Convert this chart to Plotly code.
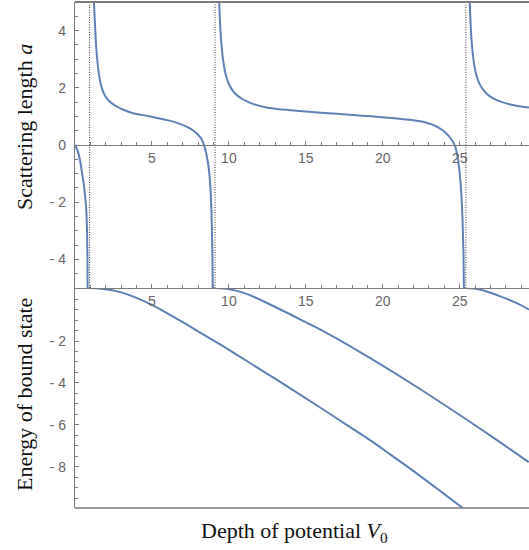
import plotly.graph_objects as go

# ---------------- data ----------------
# Scattering length a vs depth V0, branches between resonances
v0_branch1 = [0.0, 0.2, 0.32, 0.43, 0.55, 0.65, 0.71, 0.76, 0.79, 0.81, 0.82]
a_branch1 = [0.0, -0.25, -0.52, -0.88, -1.3, -1.75, -2.1, -2.6, -3.2, -4.0, -5.0]

v0_branch2 = [1.23, 1.3, 1.38, 1.47, 1.6, 1.75, 1.95, 2.2, 2.6, 3.1, 3.79, 4.98, 5.9,
              6.82, 7.47, 7.9, 8.23, 8.44, 8.62, 8.74, 8.83, 8.89, 8.93, 8.95]
a_branch2 = [5.0, 4.2, 3.4, 2.85, 2.32, 1.98, 1.72, 1.55, 1.38, 1.24, 1.11, 0.99, 0.88,
             0.74, 0.58, 0.41, 0.2, -0.1, -0.55, -1.05, -1.8, -2.8, -3.9, -5.0]

v0_branch3 = [9.37, 9.43, 9.52, 9.63, 9.8, 10.05, 10.4, 10.9, 11.6, 12.45, 13.5,
              15.0, 17.0, 18.5, 19.98, 21.75, 22.84, 23.6, 24.1, 24.45, 24.7, 24.87,
              25.0, 25.1, 25.18, 25.24, 25.27]
a_branch3 = [5.0, 4.2, 3.5, 2.95, 2.45, 2.07, 1.8, 1.6, 1.43, 1.31, 1.24,
             1.17, 1.09, 1.03, 0.97, 0.88, 0.78, 0.62, 0.42, 0.2, -0.05, -0.45,
             -1.0, -1.7, -2.6, -3.7, -5.0]

v0_branch4 = [25.65, 25.71, 25.79, 25.9, 26.05, 26.3, 26.7, 27.2, 27.8, 28.6, 29.5]
a_branch4 = [5.0, 4.2, 3.5, 2.95, 2.5, 2.12, 1.82, 1.62, 1.49, 1.38, 1.31]

# Resonance positions (dotted vertical lines)
resonances = [0.95, 9.1, 25.4]

# Bound-state energies vs depth V0
v0_state1 = [0.94, 2.0, 3.0, 4.0, 5.0, 6.0, 7.0, 8.5, 10.0, 11.5, 13.0, 14.5, 16.0,
             17.5, 19.0, 20.5, 22.0, 23.5, 25.0, 25.3]
e_state1 = [0.53, 0.47, 0.32, 0.06, -0.28, -0.68, -1.10, -1.76, -2.42, -3.11, -3.80,
            -4.50, -5.21, -5.93, -6.65, -7.42, -8.21, -9.03, -9.86, -10.02]

v0_state2 = [9.1, 10.06, 11.15, 12.88, 15.04, 16.1, 18.5, 21.75, 25.0, 27.16, 29.48]
e_state2 = [0.53, 0.47, 0.25, -0.33, -1.12, -1.52, -2.52, -3.98, -5.53, -6.60, -7.78]

v0_state3 = [25.4, 26.3, 27.6, 28.6, 29.5]
e_state3 = [0.53, 0.46, 0.14, -0.16, -0.50]

x_ticks = [5, 10, 15, 20, 25]
a_ticks = [4, 2, 0, -2, -4]
a_ticklabels = ["4", "2", "0", "- 2", "- 4"]
e_ticks = [-2, -4, -6, -8]
e_ticklabels = ["- 2", "- 4", "- 6", "- 8"]

# ---------------- figure ----------------
W, H = 529, 550
ML, MR, MT, MB = 75, 0, 2, 42
split = 0.4348
x_range = [0, 29.5]
a_range = [-5, 5]
e_range = [-9.97, 0.53]

curve = dict(color="#5E81B5", width=2)
fig = go.Figure()
for xs, ys in [(v0_branch1, a_branch1), (v0_branch2, a_branch2),
               (v0_branch3, a_branch3), (v0_branch4, a_branch4)]:
    fig.add_trace(go.Scatter(x=xs, y=ys, mode="lines", line=curve,
                             line_shape="spline", xaxis="x", yaxis="y",
                             showlegend=False, hoverinfo="skip"))
for xs, ys in [(v0_state1, e_state1), (v0_state2, e_state2), (v0_state3, e_state3)]:
    fig.add_trace(go.Scatter(x=xs, y=ys, mode="lines", line=curve,
                             line_shape="spline", xaxis="x2", yaxis="y2",
                             showlegend=False, hoverinfo="skip"))

axis_col = "#7a7a7a"
tick_font = dict(family="Liberation Sans, Arial", size=14, color="#666666")

zero_pos = split + (0 - a_range[0]) / (a_range[1] - a_range[0]) * (1 - split)

common_x = dict(range=x_range, showgrid=False, zeroline=False, showline=True,
                linecolor=axis_col, linewidth=1.2, ticks="inside", ticklen=4,
                tickcolor=axis_col, tickvals=x_ticks, ticktext=[str(t) for t in x_ticks],
                tickfont=tick_font, side="bottom", anchor="free",
                minor=dict(dtick=1, ticklen=2.5, tickcolor=axis_col, ticks="inside"))

fig.update_layout(
    width=W, height=H,
    margin=dict(l=ML, r=MR, t=MT, b=MB),
    paper_bgcolor="white", plot_bgcolor="white",
    xaxis=dict(**common_x, position=zero_pos),
    xaxis2=dict(**common_x, position=split, matches="x"),
    yaxis=dict(domain=[split, 1], range=a_range, showgrid=False, zeroline=False,
               showline=True, linecolor=axis_col, linewidth=1.2, ticks="inside",
               ticklen=4, tickcolor=axis_col, tickvals=a_ticks, ticktext=a_ticklabels,
               tickfont=tick_font, anchor="x", ticklabelstandoff=5,
               minor=dict(dtick=0.5, ticklen=2.5, tickcolor=axis_col, ticks="inside")),
    yaxis2=dict(domain=[0, split], range=e_range, showgrid=False, zeroline=False,
                showline=True, linecolor=axis_col, linewidth=1.2, ticks="inside",
                ticklen=4, tickcolor=axis_col, tickvals=e_ticks, ticktext=e_ticklabels,
                tickfont=tick_font, anchor="x2", ticklabelstandoff=5,
                minor=dict(tick0=0, dtick=0.5, ticklen=2.5, tickcolor=axis_col, ticks="inside")),
)

shapes = []
for r in resonances:
    shapes.append(dict(type="line", xref="x", yref="y", x0=r, x1=r,
                       y0=a_range[0], y1=a_range[1],
                       line=dict(color="black", width=0.8, dash="1px,1.5px")))
# frame top and bottom
shapes.append(dict(type="line", xref="paper", yref="paper", x0=0, x1=1, y0=1, y1=1,
                   line=dict(color=axis_col, width=2)))
shapes.append(dict(type="line", xref="paper", yref="paper", x0=0, x1=1, y0=0, y1=0,
                   line=dict(color=axis_col, width=1.5)))
fig.update_layout(shapes=shapes)

title_font = dict(family="Liberation Serif, Times New Roman, serif", size=22, color="#111111")
pw = W - ML - MR
ph = H - MT - MB
fig.add_annotation(text="Scattering length <i>a</i>", xref="paper", yref="paper",
                   x=(24 - ML) / pw, y=(H - MB - 127) / ph, textangle=-90,
                   showarrow=False, font=title_font, xanchor="center", yanchor="middle")
fig.add_annotation(text="Energy of bound state", xref="paper", yref="paper",
                   x=(24 - ML) / pw, y=(H - MB - 395) / ph, textangle=-90,
                   showarrow=False, font=title_font, xanchor="center", yanchor="middle")
fig.add_annotation(text="Depth of potential <i>V</i><sub>0</sub>", xref="paper", yref="paper",
                   x=(294.5 - ML) / pw, y=(H - MB - 532) / ph,
                   showarrow=False, font=title_font, xanchor="center", yanchor="middle")

fig.write_html("out.html", config={"displayModeBar": False},
               post_script="document.body.style.margin='0px';")
